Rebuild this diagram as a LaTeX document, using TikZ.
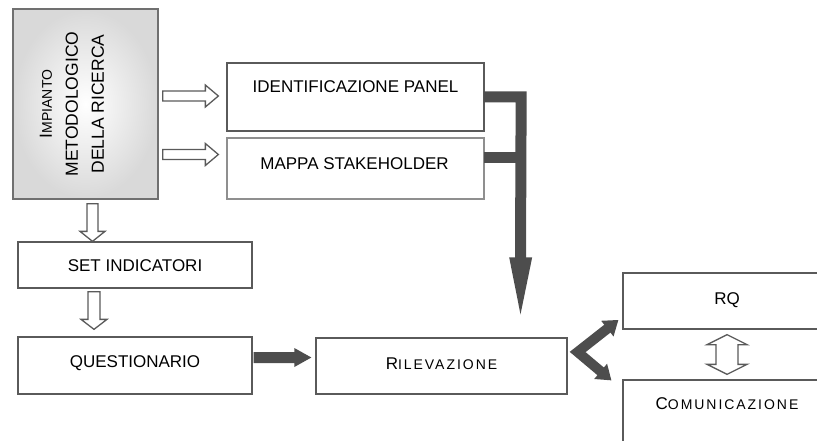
\documentclass[tikz,border=0pt]{standalone}
\usepackage{fontspec}
\setmainfont{Liberation Sans}
\usetikzlibrary{calc}
\definecolor{darkfill}{HTML}{4D4D4D}
\definecolor{boxline}{HTML}{5A5A5A}
\definecolor{lightline}{HTML}{8F8F8F}
\definecolor{mainline}{HTML}{707070}
\newcommand\scA[2]{#1{\fontsize{14}{16}\selectfont #2}}
\newcommand\scB[2]{#1{\fontsize{14}{16}\selectfont\addfontfeatures{LetterSpace=14}#2}}
% block arrow: [style]{from}{to}{shaft half}{head half}{head length}
\newcommand\blockarrow[6][hollow]{%
  \path ($(#3)!#6!(#2)$) coordinate (ba-b);
  \path[#1] ($(#2)!#4!90:(#3)$) -- ($(ba-b)!#4!90:(#3)$) -- ($(ba-b)!#5!90:(#3)$) -- (#3)
    -- ($(ba-b)!#5!-90:(#3)$) -- ($(ba-b)!#4!-90:(#3)$) -- ($(#2)!#4!-90:(#3)$) -- cycle;}
% double block arrow: {from}{to}{shaft half}{head half}{head length}
\newcommand\blockdarrow[5]{%
  \path ($(#2)!#5!(#1)$) coordinate (bd-b) ($(#1)!#5!(#2)$) coordinate (bd-a);
  \path[hollow] (#1) -- ($(bd-a)!#4!90:(#2)$) -- ($(bd-a)!#3!90:(#2)$) -- ($(bd-b)!#3!90:(#2)$)
    -- ($(bd-b)!#4!90:(#2)$) -- (#2) -- ($(bd-b)!#4!-90:(#2)$) -- ($(bd-b)!#3!-90:(#2)$)
    -- ($(bd-a)!#3!-90:(#2)$) -- ($(bd-a)!#4!-90:(#2)$) -- cycle;}
% dark head: {from}{tip}{half}{length}
\newcommand\darkhead[4]{%
  \path ($(#2)!#4!(#1)$) coordinate (dh-b);
  \fill[darkfill] ($(dh-b)!#3!90:(#2)$) -- (#2) -- ($(dh-b)!#3!-90:(#2)$) -- cycle;}
\begin{document}
\begin{tikzpicture}[x=1pt,y=-1pt,
  box/.style={draw=boxline, line width=1.3pt, fill=white, inner sep=0pt, rectangle},
  txt/.style={font=\fontsize{17}{20}\selectfont, inner sep=0pt, text height=12.2pt, text depth=0pt},
  hollow/.style={draw=boxline, fill=white, line width=1.3pt, line join=miter},
  darksolid/.style={fill=darkfill},
  darkline/.style={draw=darkfill, line width=11pt, line join=miter}]
\useasboundingbox (0,0) rectangle (817,441);
\clip (0,0) rectangle (817,441);
% boxes
\node[draw=mainline, line width=1.3pt, inner color=white, outer color=gray!30,
      minimum width=145pt, minimum height=190pt, inner sep=0pt] (main) at (85.5,104) {};
\node[rotate=90, align=center, inner sep=0pt, font=\fontsize{17.5}{26}\selectfont] (main-t) at (72,104)
  {\scA{I}{MPIANTO}\\METODOLOGICO\\DELLA RICERCA};
\node[box, minimum width=257pt, minimum height=68pt] (panel) at (355.5,97) {};
\node[txt] (panel-t) at ($(panel.north)+(0,24)$) {IDENTIFICAZIONE PANEL};
\node[box, draw=lightline, minimum width=257pt, minimum height=61pt] (mappa) at (355.5,168.5) {};
\node[txt] (mappa-t) at ($(mappa.north)+(-1,26)$) {MAPPA STAKEHOLDER};
\node[box, minimum width=234pt, minimum height=46pt] (setind) at (135,265) {};
\node[txt] (setind-t) at (setind.center) {SET INDICATORI};
\node[box, minimum width=234pt, minimum height=57pt] (quest) at (135,365.5) {};
\node[txt] (quest-t) at ($(quest.center)+(0,-4)$) {QUESTIONARIO};
\node[box, minimum width=251pt, minimum height=56pt] (ril) at (441.5,366) {};
\node[txt] (ril-t) at ($(ril.center)+(0,-2.3)$) {\scB{R}{ILEVAZIONE}};
\node[box, minimum width=208pt, minimum height=56pt] (rq) at (727,301) {};
\node[txt] (rq-t) at ($(rq.center)+(0,-3)$) {RQ};
\node[box, minimum width=208pt, minimum height=70pt] (com) at (727,415) {};
\node[txt] (com-t) at ($(com.north)+(0,23.7)$) {\scB{C}{OMUNICAZIONE}};
% hollow arrows
\coordinate (a1s) at ($(main.east |- panel.west)+(4,-1)$);
\coordinate (a1e) at ($(panel.west)+(-8,-1)$);
\blockarrow{a1s}{a1e}{5pt}{11pt}{13pt}
\coordinate (a2s) at ($(main.east |- mappa.west)+(4,-14)$);
\coordinate (a2e) at ($(mappa.west)+(-8,-14)$);
\blockarrow{a2s}{a2e}{5pt}{11pt}{13pt}
\coordinate (a3s) at ($(main.south)+(7,4)$);
\coordinate (a3e) at (a3s |- setind.north);
\blockarrow{a3s}{a3e}{5.5pt}{12.5pt}{10pt}
\coordinate (a4s) at ($(setind.south)+(-41,3)$);
\coordinate (a4e) at ($(quest.north)+(-41,-7)$);
\blockarrow{a4s}{a4e}{6pt}{13pt}{10pt}
\coordinate (a5s) at ($(rq.south)+(0,5)$);
\coordinate (a5e) at ($(com.north)+(0,-5)$);
\blockdarrow{a5s}{a5e}{11pt}{20pt}{10pt}
% dark arrow questionario -> rilevazione
\coordinate (d1s) at ($(quest.east)+(1,-8)$);
\coordinate (d1e) at ($(ril.west)+(-4,-8.5)$);
\blockarrow[darksolid]{d1s}{d1e}{5.5pt}{9.5pt}{17pt}
% dark bracket
\coordinate (b1) at ($(panel.east)+(-1,0)$);
\coordinate (b2) at ($(mappa.east)+(-1,-10.5)$);
\coordinate (c1) at ($(panel.east)+(36.5,0)$);
\coordinate (bt) at ($(ril.north)+(79,-23)$);
\draw[darkline] (b1) -- (c1) -- ($(bt)+(0,-56)$);
\draw[darkline] (b2) -- (b2 -| c1);
\darkhead{c1}{bt}{11.5pt}{57pt}
% dark diagonal arrows
\coordinate (V) at ($(ril.east)+(10,-14)$);
\coordinate (U) at ($(rq.west)+(-4,19)$);
\coordinate (L) at ($(com.north west)+(-11,1)$);
\draw[darkline, line width=10pt] ($(U)!13pt!(V)$) -- (V) -- ($(L)!13pt!(V)$);
\darkhead{V}{U}{10pt}{14pt}
\darkhead{V}{L}{10pt}{14pt}
\end{tikzpicture}
\end{document}
